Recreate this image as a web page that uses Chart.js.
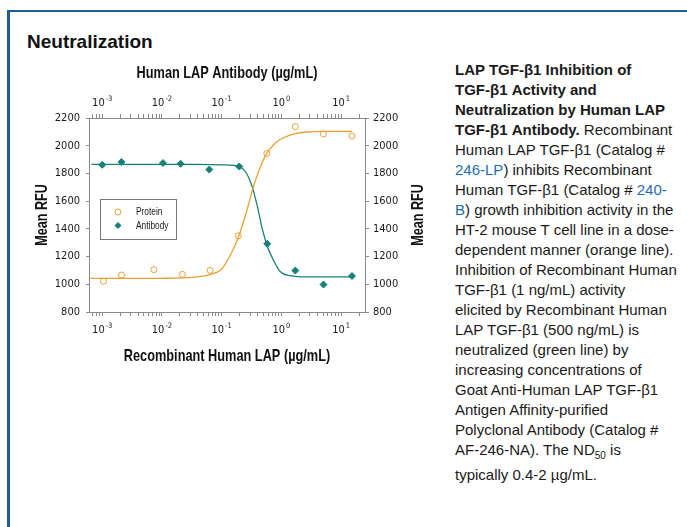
<!DOCTYPE html>
<html>
<head>
<meta charset="utf-8">
<script src="https://cdn.jsdelivr.net/npm/chart.js@4.4.0/dist/chart.umd.min.js"></script>
<style>
body { margin: 0; width: 687px; height: 527px; overflow: hidden; background: #fff; font-family: "Liberation Sans", Arial, sans-serif; }
#frame { position: absolute; left: 7px; top: 10px; width: 720px; height: 600px; border-left: 3px solid #1d5c9e; border-top: 2px solid #1d5c9e; }
h1 { position: absolute; left: 27px; top: 32px; margin: 0; font-size: 19px; line-height: 19px; font-weight: bold; color: #111; }
#wrap { position: absolute; left: 20px; top: 60px; width: 420px; height: 320px; }
#caption { position: absolute; left: 455px; top: 60px; width: 232px; font-size: 15px; line-height: 20px; color: #1a1a1a; }
#caption div { height: 20px; white-space: nowrap; }
#caption a { color: #1f6db5; text-decoration: none; }
#caption sub { font-size: 10px; line-height: 0; vertical-align: -4px; }
</style>
</head>
<body>
<div id="frame"></div>
<h1>Neutralization</h1>
<div id="wrap"><canvas id="chart" width="420" height="320"></canvas></div>
<div id="caption">
  <div><b>LAP TGF-β1 Inhibition of</b></div>
  <div><b>TGF-β1 Activity and</b></div>
  <div><b>Neutralization by Human LAP</b></div>
  <div><b>TGF-β1 Antibody.</b> Recombinant</div>
  <div>Human LAP TGF-β1 (Catalog #</div>
  <div><a>246-LP</a>) inhibits Recombinant</div>
  <div>Human TGF-β1 (Catalog # <a>240-</a></div>
  <div><a>B</a>) growth inhibition activity in the</div>
  <div>HT-2 mouse T cell line in a dose-</div>
  <div>dependent manner (orange line).</div>
  <div>Inhibition of Recombinant Human</div>
  <div>TGF-β1 (1 ng/mL) activity</div>
  <div>elicited by Recombinant Human</div>
  <div>LAP TGF-β1 (500 ng/mL) is</div>
  <div>neutralized (green line) by</div>
  <div>increasing concentrations of</div>
  <div>Goat Anti-Human LAP TGF-β1</div>
  <div>Antigen Affinity-purified</div>
  <div>Polyclonal Antibody (Catalog #</div>
  <div>AF-246-NA). The ND<sub>50</sub> is</div>
  <div style="margin-top:5px">typically 0.4-2 µg/mL.</div>
</div>
<script>
// measured points, µg/mL vs mean RFU
const proteinX = [0.00105, 0.0021, 0.0073, 0.022, 0.064, 0.19, 0.57, 1.71, 5.07, 15.2];
const proteinY = [1022, 1067, 1106, 1072, 1100, 1350, 1944, 2138, 2085, 2070];
const antibodyX = [0.001, 0.0021, 0.0104, 0.0205, 0.062, 0.197, 0.58, 1.71, 5.07, 15.2];
const antibodyY = [1862, 1882, 1875, 1870, 1828, 1850, 1292, 1099, 998, 1060];

// fitted curves
const proteinFitX = [0.000631, 0.00316, 0.01, 0.0316, 0.0631, 0.1, 0.1413, 0.1905, 0.2512, 0.3311, 0.4467, 0.5689, 0.7943, 1, 1.698, 3.162, 6.31, 15.14];
const proteinFitY = [1042, 1042, 1043, 1050, 1070, 1110, 1215, 1340, 1500, 1688, 1850, 1945, 2020, 2050, 2087, 2100, 2103, 2103];
const antibodyFitX = [0.00066, 0.00316, 0.01, 0.0316, 0.1, 0.1585, 0.1972, 0.2512, 0.3236, 0.3936, 0.4786, 0.5754, 0.6998, 0.9616, 1.413, 2.692, 15.14];
const antibodyFitY = [1865, 1866, 1866, 1865, 1862, 1858, 1850, 1812, 1705, 1567, 1400, 1280, 1193, 1090, 1062, 1053, 1053];

const decades = [0.001, 0.01, 0.1, 1, 10];
const decadeExps = ['-3', '-2', '-1', '0', '1'];
const xMin = 0.000631, xMax = 25.12;

const orange = '#e8a030';
const teal = '#17807a';
const axisGray = '#8a8a8a';
const textColor = '#1a1a1a';
const narrow = '"DejaVu Sans Condensed", "Liberation Sans", sans-serif';
const sans = '"Liberation Sans", Arial, sans-serif';

function pairs(xs, ys) {
    return xs.map((x, i) => ({ x: x, y: ys[i] }));
}

function logTicks(scale) {
    let ticks = [];
    for (let e = -4; e <= 1; e++) {
        for (let m = 1; m <= 9; m++) {
            let v = m * Math.pow(10, e);
            if (v >= xMin && v <= xMax) ticks.push({ value: v, major: m === 1 });
        }
    }
    scale.ticks = ticks;
}

// condensed-looking text: squeeze Liberation Sans horizontally
function squeezed(ctx, text, x, y, rot, font, sx, align) {
    ctx.save();
    ctx.translate(x, y);
    ctx.rotate(rot);
    ctx.scale(sx, 1);
    ctx.font = font;
    ctx.textAlign = align || 'center';
    ctx.textBaseline = 'middle';
    ctx.fillText(text, 0, 0);
    ctx.restore();
}

function drawPow(ctx, x, y, exp) {
    ctx.font = '11px ' + narrow;
    let w1 = ctx.measureText('10').width;
    ctx.font = '7.5px ' + narrow;
    let w2 = ctx.measureText(exp).width;
    let start = x - (w1 + w2 + 1) / 2;
    ctx.textAlign = 'left';
    ctx.textBaseline = 'middle';
    ctx.font = '11px ' + narrow;
    ctx.fillText('10', start, y);
    ctx.font = '7.5px ' + narrow;
    ctx.fillText(exp, start + w1 + 1, y - 4);
}

const extras = {
    id: 'extras',
    afterDraw(chart) {
        let ctx = chart.ctx;
        let xb = chart.scales.x, xt = chart.scales.x2, yl = chart.scales.y;
        let midX = (xb.left + xb.right) / 2, midY = (yl.top + yl.bottom) / 2;
        ctx.save();
        ctx.fillStyle = textColor;
        decades.forEach((v, i) => {
            drawPow(ctx, xb.getPixelForValue(v), xb.top + 18, decadeExps[i]);
            drawPow(ctx, xt.getPixelForValue(v), xt.bottom - 15, decadeExps[i]);
        });

        // axis titles
        ctx.fillStyle = '#111';
        let tf = 'bold 17px ' + sans;
        squeezed(ctx, 'Human LAP Antibody (µg/mL)', midX, 13, 0, tf, 0.75);
        squeezed(ctx, 'Recombinant Human LAP (µg/mL)', midX, 296, 0, tf, 0.75);
        squeezed(ctx, 'Mean RFU', 22, midY, -Math.PI / 2, tf, 0.74);
        squeezed(ctx, 'Mean RFU', 398, midY, -Math.PI / 2, tf, 0.74);

        // legend box
        ctx.strokeStyle = '#777';
        ctx.lineWidth = 1;
        ctx.strokeRect(80.5, 139.5, 76, 40);
        ctx.beginPath();
        ctx.arc(98, 152, 3, 0, Math.PI * 2);
        ctx.strokeStyle = orange;
        ctx.stroke();
        ctx.beginPath();
        ctx.moveTo(98, 162);
        ctx.lineTo(101.5, 165.5);
        ctx.lineTo(98, 169);
        ctx.lineTo(94.5, 165.5);
        ctx.closePath();
        ctx.fillStyle = teal;
        ctx.fill();
        ctx.fillStyle = textColor;
        squeezed(ctx, 'Protein', 116, 152, 0, '11px ' + sans, 0.76, 'left');
        squeezed(ctx, 'Antibody', 116, 166, 0, '11px ' + sans, 0.76, 'left');
        ctx.restore();
    }
};

const tickFont = { family: narrow, size: 11 };

new Chart(document.getElementById('chart'), {
    data: {
        datasets: [
            {
                type: 'scatter', label: 'Protein', data: pairs(proteinX, proteinY),
                xAxisID: 'x', yAxisID: 'y',
                pointStyle: 'circle', pointRadius: 3, pointBorderWidth: 1,
                borderColor: orange, backgroundColor: 'rgba(255,255,255,0)'
            },
            {
                type: 'scatter', label: 'Antibody', data: pairs(antibodyX, antibodyY),
                xAxisID: 'x2', yAxisID: 'y2',
                pointStyle: 'rectRot', pointRadius: 3.5, pointBorderWidth: 1,
                borderColor: teal, backgroundColor: teal
            },
            {
                type: 'line', label: 'Protein fit', data: pairs(proteinFitX, proteinFitY),
                xAxisID: 'x', yAxisID: 'y',
                borderColor: orange, borderWidth: 1.3, pointRadius: 0,
                cubicInterpolationMode: 'monotone', fill: false
            },
            {
                type: 'line', label: 'Antibody fit', data: pairs(antibodyFitX, antibodyFitY),
                xAxisID: 'x2', yAxisID: 'y2',
                borderColor: teal, borderWidth: 1.3, pointRadius: 0,
                cubicInterpolationMode: 'monotone', fill: false
            }
        ]
    },
    options: {
        responsive: false,
        animation: false,
        layout: { padding: 0 },
        plugins: { legend: { display: false }, tooltip: { enabled: false } },
        scales: {
            x: {
                type: 'logarithmic', position: 'bottom', min: xMin, max: xMax,
                border: { color: axisGray },
                grid: { drawOnChartArea: false, tickLength: 4, color: axisGray },
                ticks: { callback: () => '', autoSkip: false, maxRotation: 0 },
                afterBuildTicks: logTicks,
                afterFit: s => { s.height = 68; }
            },
            x2: {
                type: 'logarithmic', position: 'top', min: xMin, max: xMax,
                border: { color: axisGray },
                grid: { drawOnChartArea: false, tickLength: 4, color: axisGray },
                ticks: { callback: () => '', autoSkip: false, maxRotation: 0 },
                afterBuildTicks: logTicks,
                afterFit: s => { s.height = 58; }
            },
            y: {
                position: 'left', min: 800, max: 2200,
                border: { color: axisGray },
                grid: { drawOnChartArea: false, tickLength: 3, color: axisGray },
                ticks: { stepSize: 200, callback: v => String(v), font: tickFont, color: textColor, padding: 6 },
                afterFit: s => { s.width = 69; }
            },
            y2: {
                position: 'right', min: 800, max: 2200,
                border: { color: axisGray },
                grid: { drawOnChartArea: false, tickLength: 4, color: axisGray },
                ticks: { stepSize: 200, callback: v => String(v), font: tickFont, color: textColor, padding: 4 },
                afterFit: s => { s.width = 75; }
            }
        }
    },
    plugins: [extras]
});
</script>
</body>
</html>
